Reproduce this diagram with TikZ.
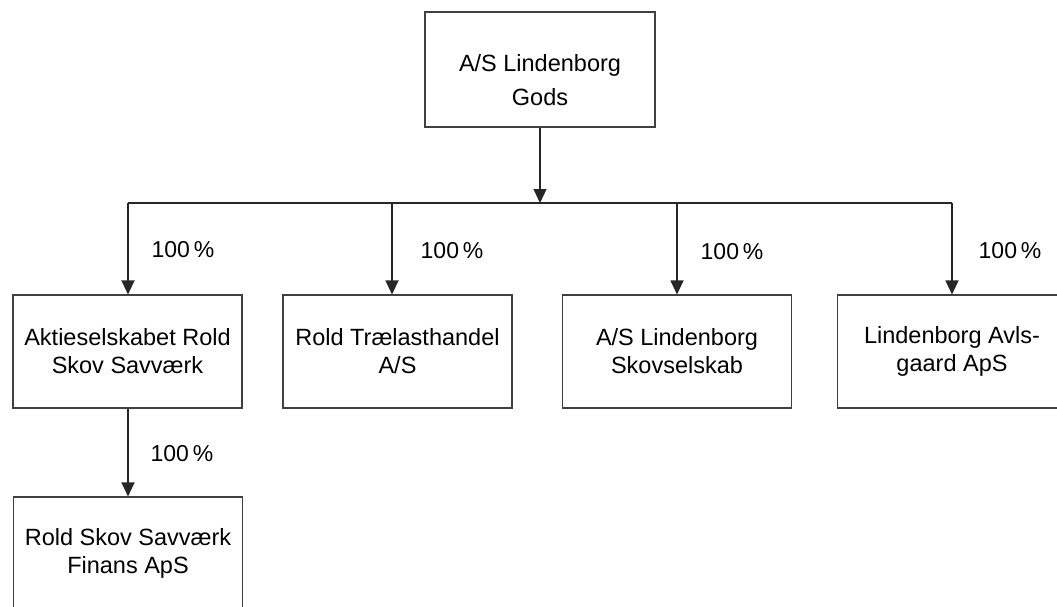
\documentclass[tikz,border=0pt]{standalone}
\usepackage{fontspec}
\setmainfont{Liberation Sans}
\usetikzlibrary{arrows.meta}
\begin{document}
\begin{tikzpicture}[x=1pt,y=-1pt,
  box/.style={draw=black!75, line width=1.1pt, minimum width=229pt, minimum height=113pt, inner sep=0pt, align=center, font=\fontsize{23.5}{28}\selectfont},
  txt/.style={align=center, inner sep=0pt, font=\fontsize{23.5}{34}\selectfont},
  pct/.style={inner sep=0pt, font=\fontsize{23}{28}\selectfont},
  arr/.style={line width=1.1pt, draw=black!85, -{Triangle[width=13pt,length=14pt]}},
  ln/.style={line width=1.1pt, draw=black!85}]
\useasboundingbox (0,0) rectangle (1057,607);
\clip (0,0) rectangle (1057,607);
\fill[white] (0,0) rectangle (1057,607);
% top
\node[box, minimum width=230pt, minimum height=115pt] (top) at (540,69.5) {};
\node[txt] (toptxt) at (540,80) {A/S Lindenborg\\Gods};
% level 2
\node[box] (n1) at (127.5,351.5) {Aktieselskabet Rold\\Skov Savværk};
\node[box] (n2) at (397.5,351.5) {Rold Trælasthandel\\A/S};
\node[box] (n3) at (677,351.5) {A/S Lindenborg\\Skovselskab};
\node[box] (n4) at (952,351.5) {Lindenborg Avls-\\gaard ApS};
% level 3
\node[box] (n5) at (128,553.5) {Rold Skov Savværk\\Finans ApS};
% connectors
\coordinate (hub) at (540,203);
\coordinate (b1) at (128,203);
\coordinate (b2) at (392,203);
\coordinate (b3) at (677,203);
\coordinate (b4) at (952,203);
\draw[arr] (top.south -| hub) -- (hub);
\draw[ln] (b1) -- (b4);
\draw[arr] (b1) -- (b1 |- n1.north);
\draw[arr] (b2) -- (b2 |- n2.north);
\draw[arr] (b3) -- (b3 |- n3.north);
\draw[arr] (b4) -- (b4 |- n4.north);
\draw[arr] (n1.south -| b1) -- (n5.north -| b1);
% labels
\node[pct] (p1) at (183,250) {100\,\%};
\node[pct] (p2) at (452,251) {100\,\%};
\node[pct] (p3) at (732,252) {100\,\%};
\node[pct] (p4) at (1010,251) {100\,\%};
\node[pct] (p5) at (182,454) {100\,\%};
\end{tikzpicture}
\end{document}
